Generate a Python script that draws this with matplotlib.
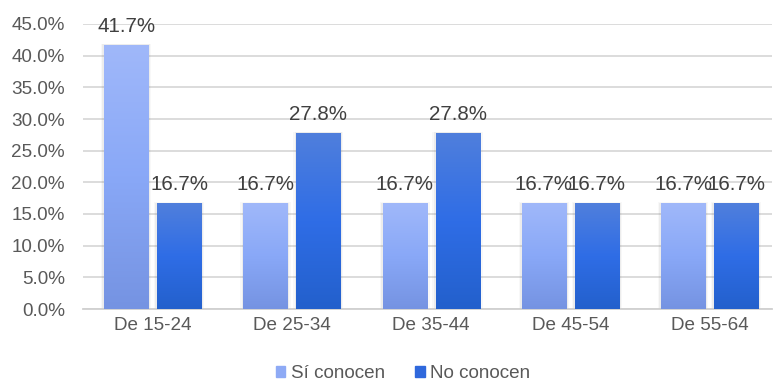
import numpy as np
import matplotlib
matplotlib.use('Agg')
import matplotlib.pyplot as plt
from matplotlib.colors import LinearSegmentedColormap
from matplotlib.patches import Rectangle

plt.rcParams['font.family'] = ['Liberation Sans', 'DejaVu Sans']

categorias = ['De 15-24', 'De 25-34', 'De 35-44', 'De 45-54', 'De 55-64']
si_conocen = [41.7, 16.7, 16.7, 16.7, 16.7]
no_conocen = [16.7, 27.8, 27.8, 16.7, 16.7]
series = ['Sí conocen', 'No conocen']

# degradados verticales (abajo -> medio -> arriba)
grad_si = LinearSegmentedColormap.from_list('si', ['#7593e2', '#89a8f7', '#a0b8fa'])
grad_no = LinearSegmentedColormap.from_list('no', ['#2360cc', '#2f6de6', '#507fdc'])

fig = plt.figure(figsize=(7.73, 3.84), dpi=100)
ax = fig.add_axes([83/773, 75/384, 689/773, 285/384])

ancho = 0.317
desp = 0.19
x = np.arange(len(categorias))

ax.set_ylim(0, 45)
ax.set_yticks(np.arange(0, 46, 5))
ax.set_yticklabels([f'{v:.1f}%' for v in np.arange(0, 46, 5)])
ax.yaxis.grid(True, color='#d9d9d9', linewidth=1.3)
ax.set_axisbelow(True)
for s in ['top', 'right', 'left']:
    ax.spines[s].set_visible(False)
ax.spines['bottom'].set_color('#d0d0d0')
ax.spines['bottom'].set_linewidth(1.3)
ax.tick_params(axis='both', length=0, labelsize=13.6, colors='#595959')
ax.tick_params(axis='x', pad=6)
ax.tick_params(axis='y', pad=13)
ax.set_xticks(x)
ax.set_xticklabels(categorias)

grad = np.linspace(0, 1, 256).reshape(-1, 1)

def barra(xc, h, cmap):
    x0 = xc - ancho/2
    # sombra suave
    for k, a in [(0.012, 0.10), (0.022, 0.05)]:
        ax.add_patch(Rectangle((x0 - k, 0), ancho + 2*k, h + k*6, color='#808080',
                               alpha=a, linewidth=0, zorder=2))
    rect = Rectangle((x0, 0), ancho, h, facecolor='none', edgecolor='none', zorder=3)
    ax.add_patch(rect)
    im = ax.imshow(grad, cmap=cmap, extent=[x0, x0 + ancho, 0, h], origin='lower',
                   aspect='auto', zorder=3, interpolation='bilinear')
    im.set_clip_path(rect)
    ax.text(xc, h + 1.4, f'{h:.1f}%', ha='center', va='bottom', fontsize=14.8,
            color='#404040', zorder=4)

for i in range(len(categorias)):
    barra(x[i] - desp, si_conocen[i], grad_si)
    barra(x[i] + desp, no_conocen[i], grad_no)

ax.set_xlim(-0.5, -0.5 + 689/139.25)
ax.set_ylim(0, 45)

h1 = Rectangle((0, 0), 1, 1, color='#8eaaf5')
h2 = Rectangle((0, 0), 1, 1, color='#2f68dc')
fig.legend([h1, h2], series, loc='center', bbox_to_anchor=(403/773, 1 - 374/384),
           ncol=2, frameon=False, fontsize=13.6, handlelength=0.5, handleheight=0.5,
           handletextpad=0.3, columnspacing=1.6, labelcolor='#595959')

fig.savefig('out.png', dpi=100)
